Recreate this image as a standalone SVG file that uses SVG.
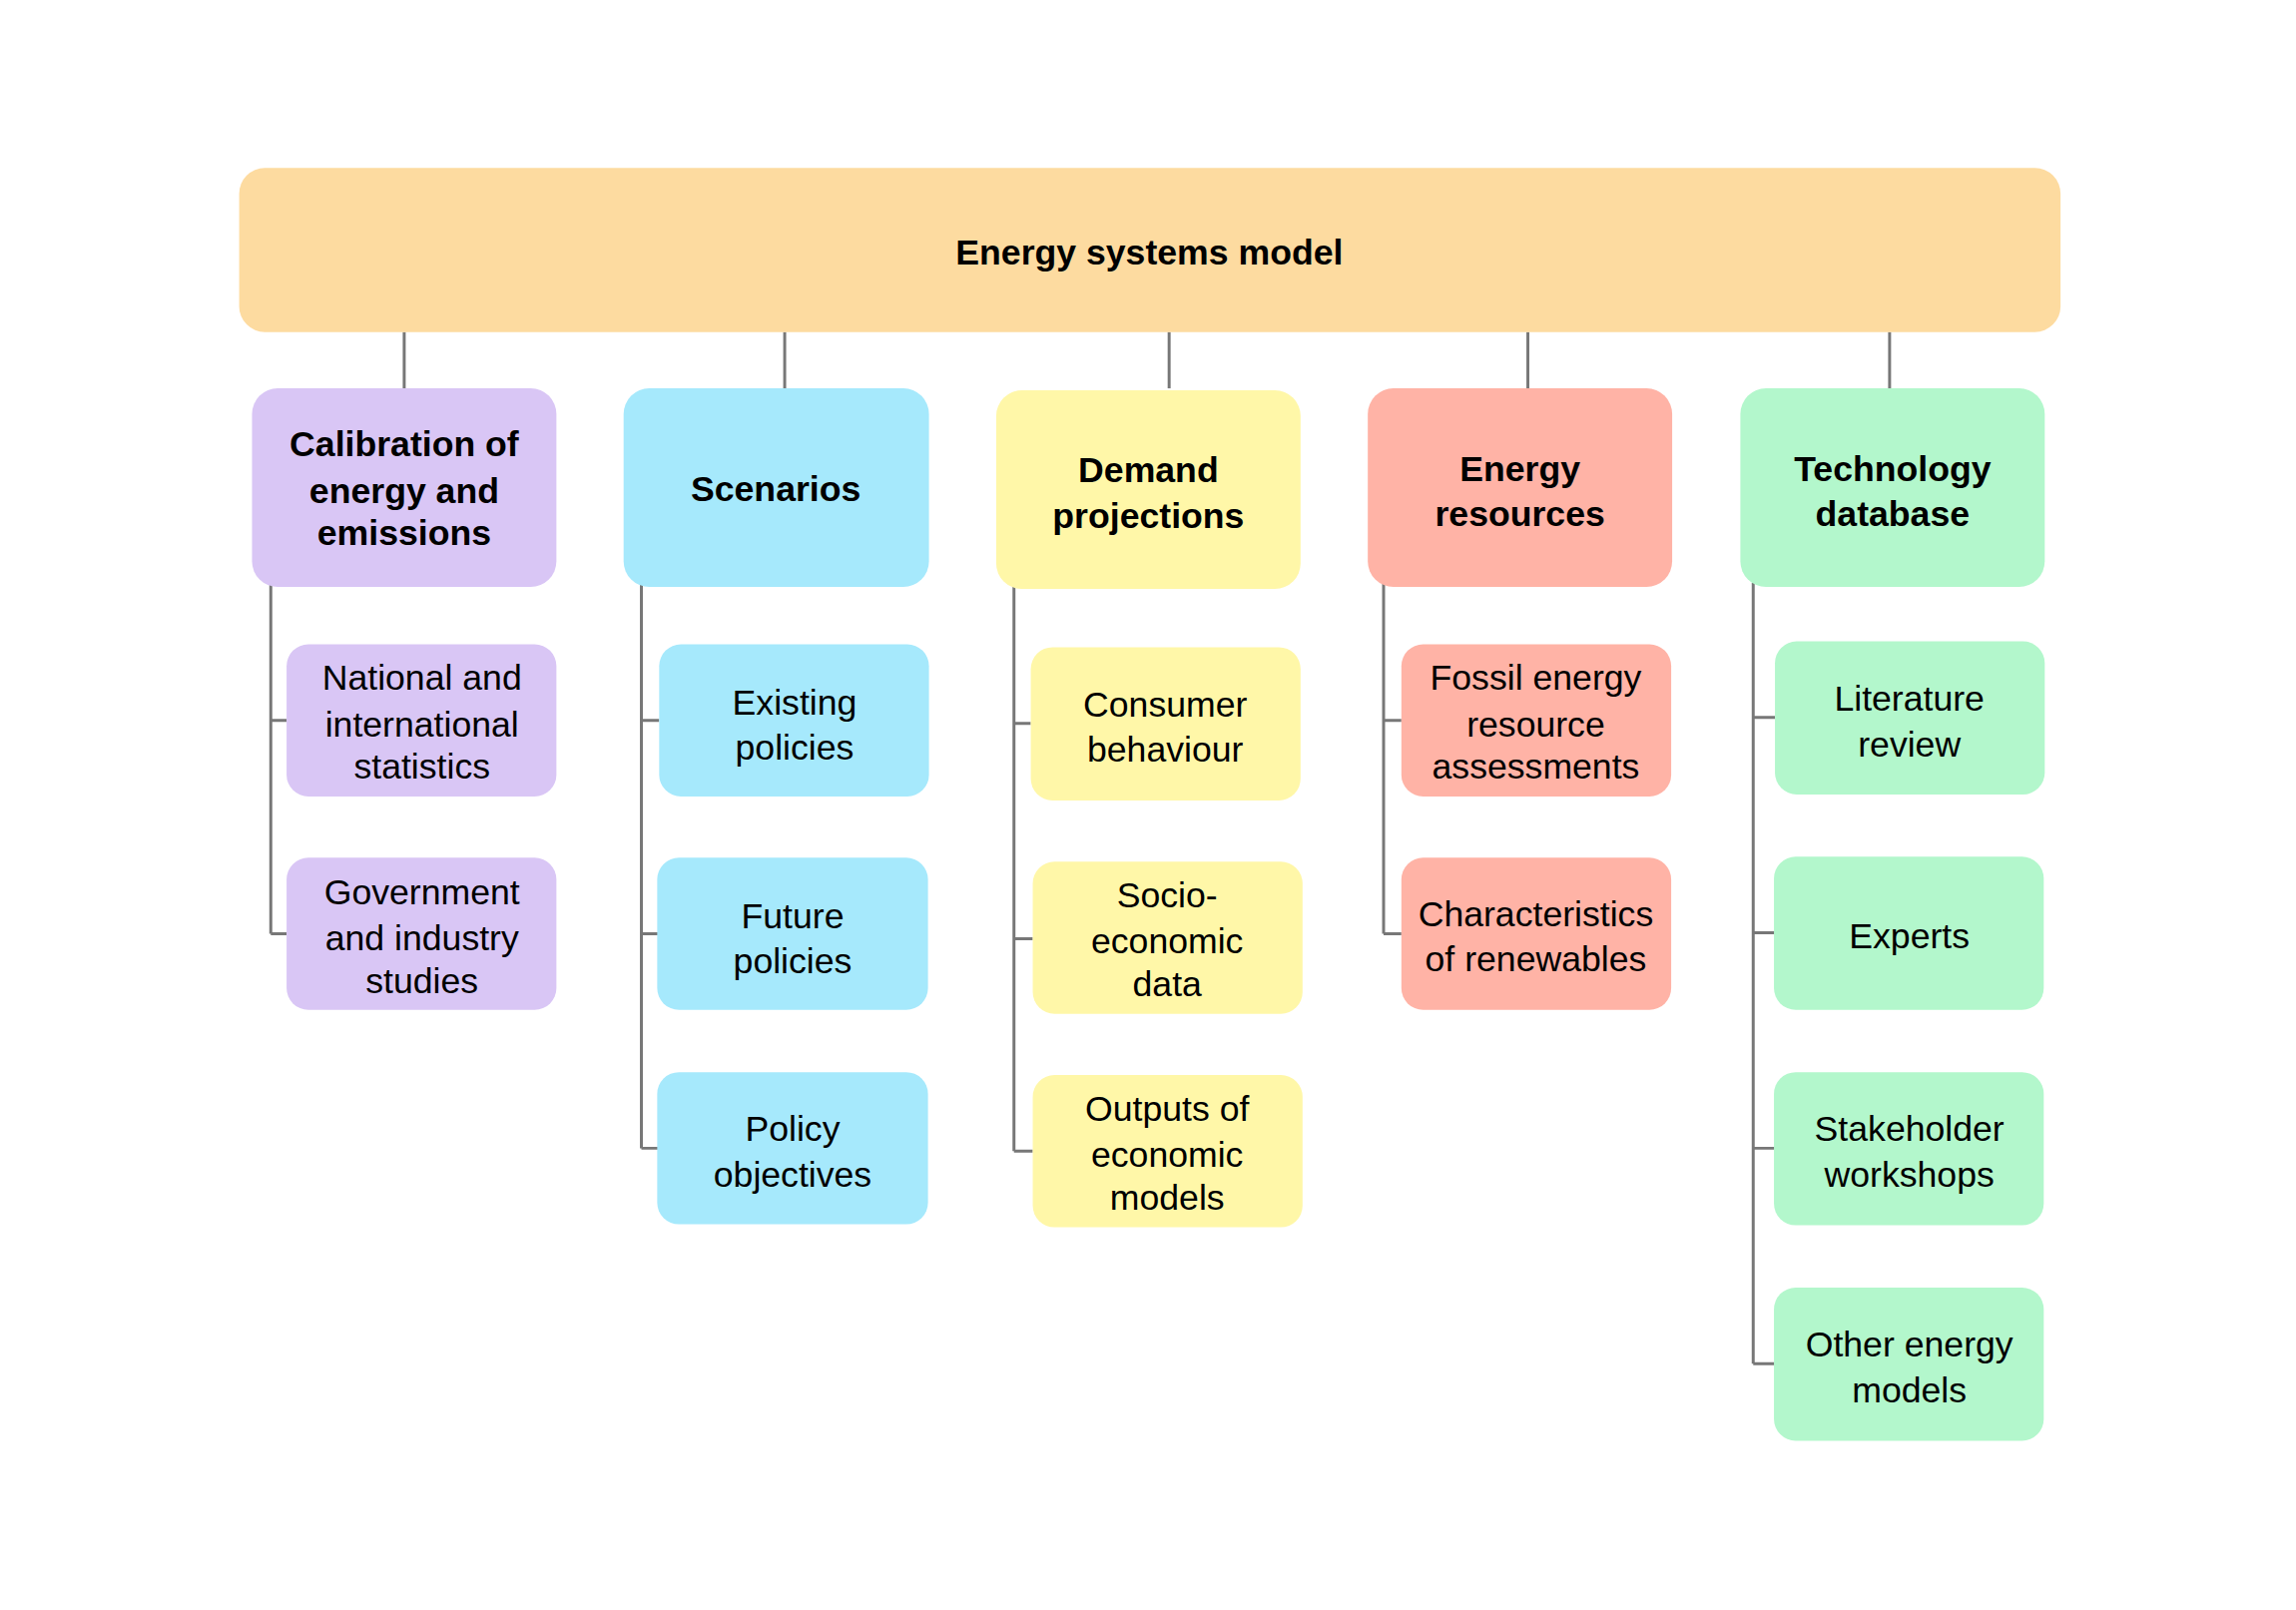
<svg xmlns="http://www.w3.org/2000/svg" width="2300" height="1613" viewBox="0 0 2300 1613">
<style>
text{font-family:"Liberation Sans",Arial,sans-serif;fill:#000;text-anchor:middle}
.h{font-weight:bold;font-size:36px}
.c{font-size:36px}
.r{font-weight:bold;font-size:36px}
.con line,.con path{stroke:#777;stroke-width:3;fill:none}
.p{fill:#D9C6F5}.b{fill:#A6E9FC}.y{fill:#FFF7A8}.o{fill:#FFB3A6}.g{fill:#B3F7CC}
</style>
<rect width="2300" height="1613" fill="#fff"/>
<g transform="scale(0.99)">
<g class="con">
<line x1="409" y1="336" x2="409" y2="393"/><line x1="794" y1="336" x2="794" y2="393"/><line x1="1183" y1="336" x2="1183" y2="393"/><line x1="1546" y1="336" x2="1546" y2="393"/><line x1="1912" y1="336" x2="1912" y2="393"/>
<path d="M274 590V945M274 729H290M274 945H290"/>
<path d="M649 590V1162M649 729H667M649 945H667M649 1162H667"/>
<path d="M1026 590V1165M1026 732H1043M1026 950H1045M1026 1165H1045"/>
<path d="M1400 590V945M1400 729H1418M1400 945H1418"/>
<path d="M1774 590V1380M1774 726H1796M1774 944H1796M1774 1162H1796M1774 1380H1796"/>
</g>
<g id="root"><rect x="242" y="170" width="1843" height="166" rx="26" fill="#FDDBA0"/><text class="r" x="1163" y="268">Energy systems model</text></g>
<g id="n1"><rect class="p" x="255" y="393" width="308" height="201" rx="26"/><text class="h" x="409" y="462">Calibration of</text><text class="h" x="409" y="509">energy and</text><text class="h" x="409" y="552">emissions</text></g>
<g id="n2"><rect class="b" x="631" y="393" width="309" height="201" rx="26"/><text class="h" x="785" y="507">Scenarios</text></g>
<g id="n3"><rect class="y" x="1008" y="395" width="308" height="201" rx="26"/><text class="h" x="1162" y="488">Demand</text><text class="h" x="1162" y="534">projections</text></g>
<g id="n4"><rect class="o" x="1384" y="393" width="308" height="201" rx="26"/><text class="h" x="1538" y="487">Energy</text><text class="h" x="1538" y="532">resources</text></g>
<g id="n5"><rect class="g" x="1761" y="393" width="308" height="201" rx="26"/><text class="h" x="1915" y="487">Technology</text><text class="h" x="1915" y="532">database</text></g>
<g id="c11"><rect class="p" x="290" y="652" width="273" height="154" rx="22"/><text class="c" x="427" y="698">National and</text><text class="c" x="427" y="745">international</text><text class="c" x="427" y="788">statistics</text></g>
<g id="c12"><rect class="p" x="290" y="868" width="273" height="154" rx="22"/><text class="c" x="427" y="915">Government</text><text class="c" x="427" y="962">and industry</text><text class="c" x="427" y="1005">studies</text></g>
<g id="c21"><rect class="b" x="667" y="652" width="273" height="154" rx="22"/><text class="c" x="804" y="723">Existing</text><text class="c" x="804" y="769">policies</text></g>
<g id="c22"><rect class="b" x="665" y="868" width="274" height="154" rx="22"/><text class="c" x="802" y="939">Future</text><text class="c" x="802" y="985">policies</text></g>
<g id="c23"><rect class="b" x="665" y="1085" width="274" height="154" rx="22"/><text class="c" x="802" y="1155">Policy</text><text class="c" x="802" y="1201">objectives</text></g>
<g id="c31"><rect class="y" x="1043" y="655" width="273" height="155" rx="22"/><text class="c" x="1179" y="725">Consumer</text><text class="c" x="1179" y="771">behaviour</text></g>
<g id="c32"><rect class="y" x="1045" y="872" width="273" height="154" rx="22"/><text class="c" x="1181" y="918">Socio-</text><text class="c" x="1181" y="965">economic</text><text class="c" x="1181" y="1008">data</text></g>
<g id="c33"><rect class="y" x="1045" y="1088" width="273" height="154" rx="22"/><text class="c" x="1181" y="1134">Outputs of</text><text class="c" x="1181" y="1181">economic</text><text class="c" x="1181" y="1224">models</text></g>
<g id="c41"><rect class="o" x="1418" y="652" width="273" height="154" rx="22"/><text class="c" x="1554" y="698">Fossil energy</text><text class="c" x="1554" y="745">resource</text><text class="c" x="1554" y="788">assessments</text></g>
<g id="c42"><rect class="o" x="1418" y="868" width="273" height="154" rx="22"/><text class="c" x="1554" y="937">Characteristics</text><text class="c" x="1554" y="983">of renewables</text></g>
<g id="c51"><rect class="g" x="1796" y="649" width="273" height="155" rx="22"/><text class="c" x="1932" y="719">Literature</text><text class="c" x="1932" y="766">review</text></g>
<g id="c52"><rect class="g" x="1795" y="867" width="273" height="155" rx="22"/><text class="c" x="1932" y="960">Experts</text></g>
<g id="c53"><rect class="g" x="1795" y="1085" width="273" height="155" rx="22"/><text class="c" x="1932" y="1155">Stakeholder</text><text class="c" x="1932" y="1201">workshops</text></g>
<g id="c54"><rect class="g" x="1795" y="1303" width="273" height="155" rx="22"/><text class="c" x="1932" y="1373">Other energy</text><text class="c" x="1932" y="1419">models</text></g>
</g>
</svg>
